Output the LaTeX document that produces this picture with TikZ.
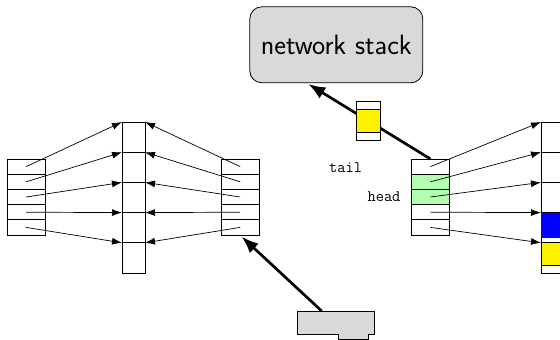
\documentclass[tikz,border=0pt]{standalone}
\usepackage{fontspec}
\usetikzlibrary{arrows.meta,calc}
\begin{document}
\begin{tikzpicture}[x=1pt,y=-1pt, line width=0.8pt,
  cellA/.style={draw, fill=white, minimum width=37.7pt, minimum height=15.2pt, inner sep=0pt, outer sep=0pt},
  cellM/.style={draw, fill=white, minimum width=23pt, minimum height=30.2pt, inner sep=0pt, outer sep=0pt},
  ptr/.style={-{Latex[length=10pt,width=7pt]}, line width=0.7pt},
  big/.style={-{Latex[length=17pt,width=13pt]}, line width=2.7pt},
  lbl/.style={font=\fontsize{16}{19}\selectfont\ttfamily, inner sep=0pt}]
\path[use as bounding box, clip] (0,0) rectangle (560,340);

% left side arrays
\foreach \i/\y in {1/166.6,2/181.8,3/197,4/212.2,5/227.4} {
  \node[cellA] (La\i) at (26.2,\y) {};
  \node[cellA] (Q\i) at (240.2,\y) {};
}
\foreach \i/\y in {1/137.1,2/167.3,3/197.5,4/227.7,5/257.9} {
  \node[cellM] (M\i) at (133.5,\y) {};
}
\foreach \i in {1,...,5} {
  \draw[ptr] (La\i.center) -- (M\i.north west);
  \draw[ptr] (Q\i.center) -- (M\i.north east);
}

% right side arrays
\foreach \i/\y/\c in {1/166.6/white,2/181.8/green!30,3/197/green!30,4/212.2/white,5/227.4/white} {
  \node[cellA, fill=\c] (R\i) at (430.5,\y) {};
}
\foreach \i/\y in {1/137.1,2/167.3,3/197.5,4/227.7,5/257.9} {
  \node[cellM] (C\i) at (552.5,\y) {};
}
\node[fill=blue, minimum width=23pt, minimum height=25.4pt, inner sep=0pt, outer sep=0pt, anchor=north] (pblue) at (C4.north) {};
\node[draw, fill=yellow, minimum width=23pt, minimum height=22.2pt, inner sep=0pt, outer sep=0pt, anchor=north] (pyel) at (C5.north) {};
\foreach \i in {1,...,5} {
  \draw[ptr] (R\i.center) -- (C\i.north west);
}

% labels
\node[lbl] (tail) at (345.7,167.7) {tail};
\node[lbl] (head) at (384,197) {head};

% network stack
\node[draw, fill=gray!30, rounded corners=12pt, minimum width=173pt, minimum height=76pt,
      inner sep=0pt, font=\fontsize{28}{32}\selectfont\sffamily] (stack) at (336.3,44.8) {network stack};
\coordinate (stip) at (308.3,84);
\draw[big] (R1.north) -- (stip);

% packet in flight
\node[draw, fill=white, minimum width=23.3pt, minimum height=38.3pt, inner sep=0pt] (pkt) at (368.3,120.9) {};
\node[draw, fill=yellow, minimum width=23.3pt, minimum height=23pt, inner sep=0pt] (pktdata) at (pkt.center) {};

% device
\draw[fill=gray!30] (297.3,311) -- (374,311) -- (374,334) -- (368.3,334) -- (368.3,339.3)
  -- (338.3,339.3) -- (338.3,334) -- (297.3,334) -- cycle;
\coordinate (dtop) at (321.7,311);
\coordinate (qtip) at ($(Q5.south)+(1.5,1.7)$);
\draw[big] (dtop) -- (qtip);
\end{tikzpicture}
\end{document}
